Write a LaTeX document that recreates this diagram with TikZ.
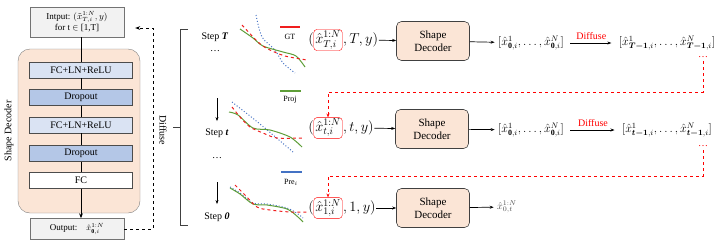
\documentclass[tikz,border=0pt]{standalone}
\usepackage{amsmath,bm}
\usepackage{fontspec}
\setmainfont{Liberation Serif}
\usetikzlibrary{positioning,arrows.meta}
\definecolor{peach}{HTML}{FBE5D6}
\definecolor{lblue}{HTML}{DAE3F3}
\definecolor{mblue}{HTML}{B4C7E7}
\definecolor{gtred}{HTML}{F01E1E}
\definecolor{pjgreen}{HTML}{5E9E38}
\definecolor{prblue}{HTML}{4472C4}
\tikzset{
  iobox/.style={draw=black!55, fill=black!5, minimum width=94pt, align=center, font=\small},
  layer/.style={draw=black!70, minimum width=103pt, minimum height=16pt, inner sep=0pt, font=\normalsize},
  decoder/.style={draw=black!75, fill=peach, rounded corners=5pt, minimum width=73pt,
    minimum height=39pt, align=center, font=\fontsize{11}{13}\selectfont, line width=0.6pt},
  xbox/.style={draw=red, rounded corners=3pt, inner sep=1.5pt, font=\Large},
  tup/.style={inner sep=0.5pt, font=\Large},
  flow/.style={-{Stealth[length=4pt]}, line width=0.7pt},
  back/.style={red, dashed, line width=0.7pt, -{Stealth[length=4pt]}},
  gtcurve/.style={gtred, dashed, line width=1pt},
  pjcurve/.style={pjgreen, line width=1pt},
  prcurve/.style={prblue, dotted, line width=1pt}
}
\begin{document}
\begin{tikzpicture}[x=1pt,y=-1pt]
  \useasboundingbox (0,0) rectangle (714,244);
  % left: decoder layout
  \node[draw=black!50, fill=peach, rounded corners=12pt, minimum width=122pt, minimum height=164pt] (dec) at (79,131) {};
  \node[rotate=90, font=\normalsize] (declab) at (9,131) {Shape Decoder};
  \node[iobox, minimum height=30pt] (inp) at (77,22) {Intput: $(\tilde{x}^{1:N}_{T,i},y)$\\for t $\in$ [1,T]};
  \node[layer, fill=lblue] (fc1) at (81,70) {FC+LN+ReLU};
  \node[layer, fill=mblue] (do1) at (81,97.5) {Dropout};
  \node[layer, fill=lblue] (fc2) at (81,125) {FC+LN+ReLU};
  \node[layer, fill=mblue] (do2) at (81,153.5) {Dropout};
  \node[layer, fill=white] (fc3) at (81,180.5) {FC};
  \node[iobox, minimum height=21pt] (out) at (77,229) {Output:\quad{\footnotesize$\hat{x}^{1:N}_{\mathbf{0},i}$}};
  \draw[line width=1pt] (inp.south -| fc1.north) -- (fc1.north);
  \draw (fc1) -- (do1);
  \draw (do1) -- (fc2);
  \draw (fc2) -- (do2);
  \draw (do2) -- (fc3);
  \draw[line width=1pt, -{Stealth[length=5pt]}] (fc3.south) -- (out.north -| fc3.south);
  \coordinate (fb) at (153,28);
  \draw[dashed, line width=0.8pt, -{Stealth[length=5pt]}, shorten >=11pt] (out.east) -| (fb) -- (inp.east |- fb);
  \node[rotate=-90, font=\normalsize] (difflab) at (163,130) {Diffuse};
  % bracket
  \coordinate (bt) at (188,29);
  \coordinate (bb) at (188,225);
  \draw[black!75] (bt) -| (180,225) -- (bb);
  \draw[black!75] (173,127) -- (180,127);
  % steps
  \node (sT) at (215,37) {Step \textbf{\textit{T}}};
  \node (dT) at (215,51) {\dots};
  \coordinate (a1) at (217,98);
  \node (st) at (217,133) {Step \textbf{\textit{t}}};
  \node (dt) at (217,158) {\dots};
  \coordinate (a2) at (217,182);
  \node (s0) at (217,217) {Step \textbf{\textit{0}}};
  \draw[flow, shorten >=4pt] (a1) -- (st.north);
  \draw[flow, shorten >=5pt] (a2) -- (s0.north);
  % curves
  \draw[prcurve] plot[smooth] coordinates {(256,15) (262,37) (275,50) (283,63) (295,73)};
  \draw[pjcurve] plot[smooth] coordinates {(240,29) (253,38) (263,46) (283,52) (296,56) (305,67)};
  \draw[gtcurve] plot[smooth] coordinates {(242,25) (258,42) (268,49) (285,56) (307,60)};
  \draw[prcurve] plot[smooth] coordinates {(232,102) (260,124) (293,152)};
  \draw[pjcurve] plot[smooth] coordinates {(229,112) (238,115) (253,128) (270,130) (290,137) (302,147)};
  \draw[gtcurve] plot[smooth] coordinates {(232,107) (240,117) (250,127) (263,133) (277,138) (302,138)};
  \draw[prcurve] plot[smooth] coordinates {(230,187) (240,193) (253,203) (267,204) (287,208) (298,214) (303,218)};
  \draw[pjcurve] plot[smooth] coordinates {(230,188) (240,194) (253,204) (267,205) (287,209) (298,217) (303,222)};
  \draw[gtcurve] plot[smooth] coordinates {(235,185) (245,195) (257,207) (270,210) (290,212) (307,212)};
  % legend
  \draw[gtred, line width=1.2pt] (280,27) -- (300,27);
  \node[font=\footnotesize] (gtlab) at (290,37) {GT};
  \draw[pjgreen, line width=1.2pt] (280,91) -- (301,91);
  \node[font=\footnotesize] (pjlab) at (290,100) {Proj};
  \draw[prblue, line width=1.2pt] (281,172) -- (302,172);
  \node[font=\footnotesize] (prlab) at (291,182) {Pre$_i$};
  % row 1
  \node[xbox] (x1) at (328,40) {$\hat{x}^{1:N}_{T,i}$};
  \node[tup, left=-1pt of x1] (p1) {$($};
  \node[tup, right=0pt of x1] (r1) {$,T,y)$};
  \node[decoder] (sd1) at (433,41) {Shape\\Decoder};
  \node[font=\large] (o1) at (531,43) {$[\hat{x}^1_{\mathbf{0},i},\dots,\hat{x}^N_{\mathbf{0},i}]$};
  \node[font=\large] (n1) at (667,43) {$[\hat{x}^1_{\bm{T-1},i},\dots,\hat{x}^N_{\bm{T-1},i}]$};
  \node[red] (e1) at (703,57) {\dots};
  \draw[flow] (r1) -- (sd1);
  \draw[flow] (sd1) -- (o1);
  \draw[flow, shorten <=3pt, shorten >=4pt] (o1) -- node[above, red] {Diffuse} (n1);
  % row 2
  \node[xbox] (x2) at (328,128) {$\hat{x}^{1:N}_{t,i}$};
  \node[tup, left=-1pt of x2] (p2) {$($};
  \node[tup, right=0pt of x2] (r2) {$,t,y)$};
  \node[decoder] (sd2) at (432,129) {Shape\\Decoder};
  \node[font=\large] (o2) at (531,130) {$[\hat{x}^1_{\mathbf{0},i},\dots,\hat{x}^N_{\mathbf{0},i}]$};
  \node[font=\large] (n2) at (667,130) {$[\hat{x}^1_{\bm{t-1},i},\dots,\hat{x}^N_{\bm{t-1},i}]$};
  \node[red] (e2) at (703,146) {\dots};
  \draw[flow] (r2) -- (sd2);
  \draw[flow] (sd2) -- (o2);
  \draw[flow, shorten <=3pt, shorten >=4pt] (o2) -- node[above, red] {Diffuse} (n2);
  % row 3
  \node[xbox] (x3) at (328,208) {$\hat{x}^{1:N}_{1,i}$};
  \node[tup, left=-1pt of x3] (p3) {$($};
  \node[tup, right=0pt of x3] (r3) {$,1,y)$};
  \node[decoder] (sd3) at (433,208) {Shape\\Decoder};
  \node[black!70] (o3) at (507,207) {$\hat{x}^{1:N}_{0,t}$};
  \draw[flow] (r3) -- (sd3);
  \draw[flow] (sd3) -- (o3);
  % feedback between rows
  \coordinate (c1) at (328,92);
  \coordinate (c2) at (328,176);
  \draw[back] (e1.south) |- (c1) -- (x2.north);
  \draw[back] (e2.south) |- (c2) -- (x3.north);
\end{tikzpicture}
\end{document}
